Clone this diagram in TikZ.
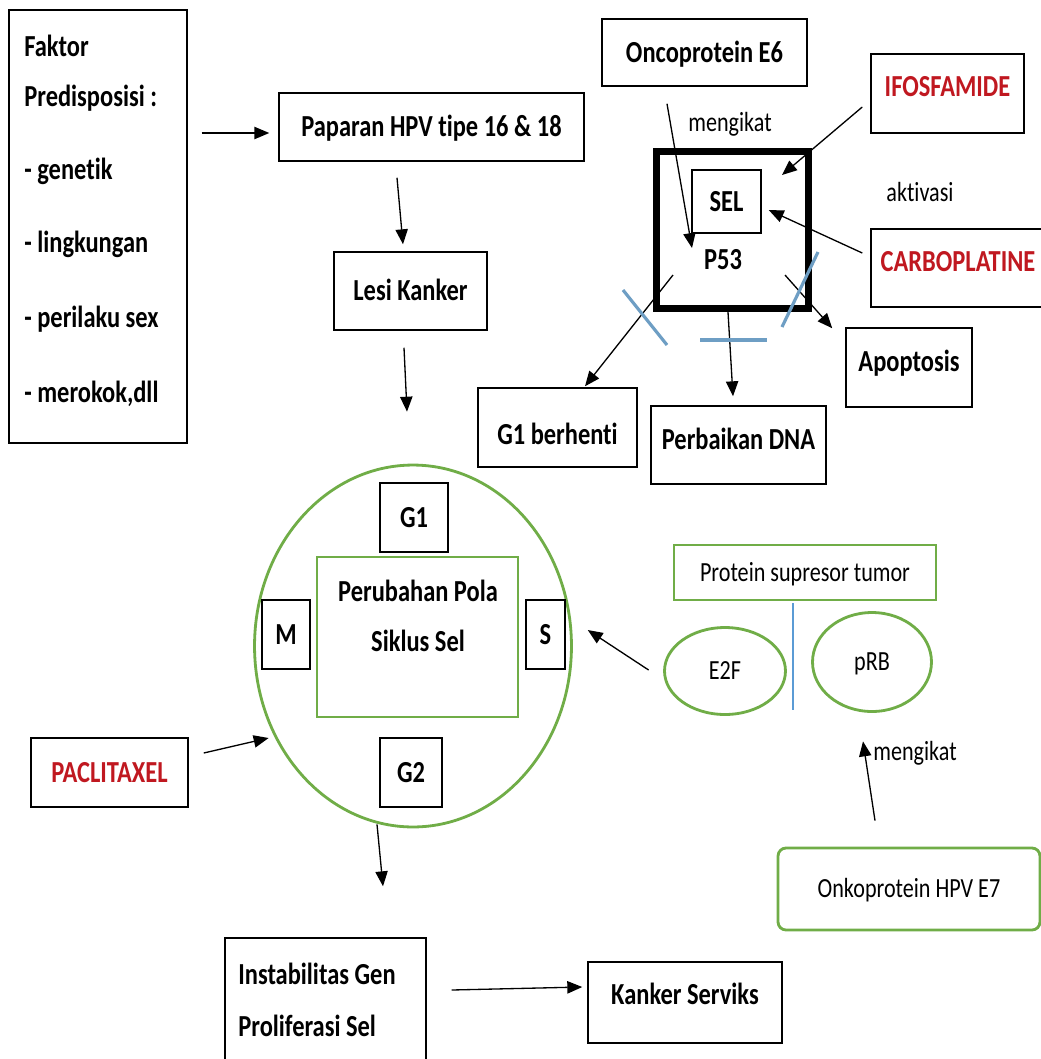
\documentclass[tikz,border=0pt]{standalone}
\usepackage{fontspec}
\setmainfont{Carlito}[FakeStretch=0.8, Ligatures=NoCommon]
\usetikzlibrary{shapes.geometric,arrows.meta,calc}
\definecolor{gr}{RGB}{112,173,71}
\definecolor{rd}{RGB}{192,24,32}
\definecolor{bl}{RGB}{110,158,196}
\definecolor{bl2}{RGB}{91,155,213}
\begin{document}
\begin{tikzpicture}[x=0.02cm,y=-0.02cm,
  bf/.style={font=\fontsize{17.4}{20}\selectfont\bfseries, text height=11.1pt, text depth=0pt},
  rg/.style={font=\fontsize{15.75}{18}\selectfont, text height=10.1pt, text depth=0pt},
  bx/.style={draw, line width=0.85pt, inner sep=0pt},
  gbx/.style={draw=gr, line width=1.6pt, inner sep=0pt},
  red/.style={text=rd},
  arr/.style={-{Triangle[length=8.5pt,width=7pt]}, line width=0.75pt},
  xmk/.style={draw=bl, line width=1.8pt},
]
\useasboundingbox (0,0) rectangle (1041,1059);
\fill[white] (0,0) rectangle (1041,1059);

% left column
\node[bx, minimum width=3.56cm, minimum height=8.66cm] (faktor) at (98,226.5) {};
\node[bf, anchor=west, inner sep=0pt] (f1) at (24,47) {Faktor};
\node[bf, anchor=west, inner sep=0pt] (f2) at (24,97) {Predisposisi :};
\node[bf, anchor=west, inner sep=0pt] (f3) at (24,170) {- genetik};
\node[bf, anchor=west, inner sep=0pt] (f4) at (24,243) {- lingkungan};
\node[bf, anchor=west, inner sep=0pt] (f5) at (24,318) {- perilaku sex};
\node[bf, anchor=west, inner sep=0pt] (f6) at (24,393) {- merokok,dll};

\node[bx, bf, minimum width=6.1cm, minimum height=1.36cm] (paparan) at (431.5,127) {Paparan HPV tipe 16 \& 18};
\node[bx, bf, minimum width=3.06cm, minimum height=1.56cm] (lesi) at (410.5,291) {Lesi Kanker};

% top right
\node[bx, bf, minimum width=4.1cm, minimum height=1.34cm] (onco) at (704.5,52.5) {Oncoprotein E6};
\node[bx, bf, red, text depth=7.4pt, minimum width=3.06cm, minimum height=1.58cm] (ifos) at (947.5,93.5) {IFOSFAMIDE};
\node[bx, bf, red, text depth=6.8pt, minimum width=3.48cm, minimum height=1.56cm] (carbo) at (958,268) {CARBOPLATINE};
\node[draw, line width=4pt, inner sep=0pt, minimum width=3.04cm, minimum height=3.14cm] (box) at (732.5,230) {};
\node[bx, bf, minimum width=1.38cm, minimum height=1.26cm] (sel) at (726.5,201.5) {SEL};
\node[bf, inner sep=0pt] (p53) at (723,260) {P53};
\node[rg, inner sep=0pt] (meng1) at (730,123) {mengikat};
\node[rg, inner sep=0pt] (aktiv) at (920,193) {aktivasi};
\node[bx, bf, text height=19.6pt, minimum width=3.18cm, minimum height=1.58cm] (g1b) at (557.5,427.5) {G1 berhenti};
\node[bx, bf, text depth=5.7pt, minimum width=3.5cm, minimum height=1.56cm] (perb) at (738.5,445) {Perbaikan DNA};
\node[bx, bf, text depth=6.2pt, minimum width=2.52cm, minimum height=1.58cm] (apop) at (909,367.5) {Apoptosis};

% cell cycle
\node[gbx, ellipse, minimum width=6.34cm, minimum height=7.24cm] (cyc) at (413,646) {};
\node[gbx, minimum width=4.02cm, minimum height=3.2cm] (inner) at (417.5,637) {};
\node[bf, inner sep=0pt] (pp1) at (418,592) {Perubahan Pola};
\node[bf, inner sep=0pt] (pp2) at (418,642) {Siklus Sel};
\node[bx, bf, minimum width=1.36cm, minimum height=1.38cm] (g1) at (414,517.5) {G1};
\node[bx, bf, minimum width=0.96cm, minimum height=1.38cm] (mbox) at (286,634.5) {M};
\node[bx, bf, minimum width=0.78cm, minimum height=1.38cm] (sbox) at (545.5,634.5) {S};
\node[bx, bf, minimum width=1.24cm, minimum height=1.38cm] (g2) at (411,772.5) {G2};
\node[bx, bf, red, minimum width=3.14cm, minimum height=1.38cm] (pacli) at (109.5,772.5) {PACLITAXEL};

% right middle
\node[gbx, rg, minimum width=5.24cm, minimum height=1.1cm] (prot) at (805,572.5) {Protein supresor tumor};
\node[gbx, rg, ellipse, minimum width=2.42cm, minimum height=1.74cm] (e2f) at (725,671) {E2F};
\node[gbx, rg, ellipse, minimum width=2.38cm, minimum height=1.98cm] (prb) at (872,662) {pRB};
\node[gbx, rg, rounded corners=0.16cm, minimum width=5.24cm, minimum height=1.64cm] (onko7) at (909,889) {Onkoprotein HPV E7};
\node[rg, anchor=west, inner sep=0pt] (meng2) at (873,752) {mengikat};

% bottom
\node[bx, minimum width=4.02cm, minimum height=2.56cm] (instab) at (325.5,1002) {};
\node[bf, anchor=west, inner sep=0pt] (i1) at (238,975) {Instabilitas Gen};
\node[bf, anchor=west, inner sep=0pt] (i2) at (238,1027) {Proliferasi Sel};
\node[bx, bf, text depth=8.5pt, minimum width=3.88cm, minimum height=1.62cm] (kanker) at (685,1002.5) {Kanker Serviks};

% connectors
\draw[arr] ([shift={(14,-93.5)}]faktor.east) -- ([shift={(-9,6)}]paparan.west);
\draw[arr] ([shift={(-34.5,16)}]paparan.south) -- ([shift={(-7.5,-7)}]lesi.north);
\draw[arr] ([shift={(-6.5,17)}]lesi.south) -- ([shift={(-6,-52)}]cyc.north);
\draw[arr] ([shift={(-37.5,17)}]onco.south) -- ([shift={(-31,-12)}]p53.center);
\draw[arr] ([shift={(-8,13.5)}]ifos.west) -- ([shift={(-30,27)}]box.north east);
\draw[arr] ([shift={(-8,-15)}]carbo.west) -- ([shift={(7,8.5)}]sel.east);
\draw[arr] ([shift={(20,-37)}]box.south west) -- ([shift={(27.5,-1)}]g1b.north);
\draw[arr] ([shift={(-4.5,0)}]box.south) -- ([shift={(-5.5,-9)}]perb.north);
\draw[arr] ([shift={(-27,-37)}]box.south east) -- ([shift={(-13,1)}]apop.north west);
\draw[arr] ([shift={(-36,-4)}]cyc.south) -- ([shift={(57.5,-51)}]instab.north);
\draw[arr] ([shift={(25,-12)}]instab.east) -- ([shift={(-5,-15.5)}]kanker.west);
\draw[arr] ([shift={(15,-19.5)}]pacli.east) -- ([shift={(15.5,92)}]cyc.west);
\draw[arr] ([shift={(-14.5,-1)}]e2f.west) -- ([shift={(22,-4.5)}]sbox.east);
\draw[arr] ([shift={(-34,-26)}]onko7.north) -- ([shift={(-9,28.5)}]prb.south);

% inhibition marks
\draw[xmk] (623,290) -- (667,345);
\draw[xmk] (700,340) -- (767,340);
\draw[xmk] (818,252) -- (782,327);
\draw[draw=bl2, line width=1.2pt] (793,603) -- (793,710);
\end{tikzpicture}
\end{document}
